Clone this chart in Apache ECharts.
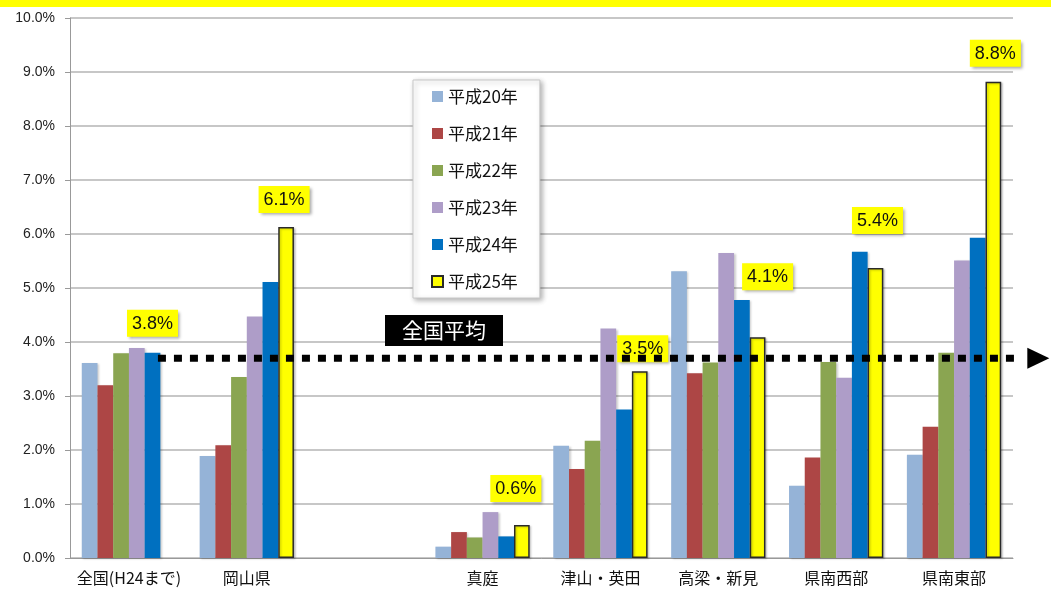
<!DOCTYPE html>
<html>
<head>
<meta charset="utf-8">
<script src="https://cdn.jsdelivr.net/npm/echarts@6/dist/echarts.min.js"></script>
<style>
html,body{margin:0;padding:0;background:#fff;}
#chart{width:1051px;height:593px;}
</style>
</head>
<body>
<div id="chart"></div>
<script>
// ---- data ----
const categories = ['全国(H24まで)', '岡山県', '', '真庭', '津山・英田', '高梁・新見', '県南西部', '県南東部'];
const seriesNames = ['平成20年', '平成21年', '平成22年', '平成23年', '平成24年', '平成25年'];
const h20 = [3.61, 1.89, null, 0.21, 2.08, 5.31, 1.34, 1.91];
const h21 = [3.20, 2.09, null, 0.48, 1.65, 3.42, 1.86, 2.43];
const h22 = [3.79, 3.35, null, 0.38, 2.17, 3.62, 3.63, 3.80];
const h23 = [3.89, 4.47, null, 0.85, 4.25, 5.65, 3.34, 5.51];
const h24 = [3.80, 5.11, null, 0.40, 2.75, 4.78, 5.67, 5.93];
const h25 = [null, 6.13, null, 0.61, 3.46, 4.09, 5.37, 8.82];
const nationalAverage = 3.70;
const avgLabel = '全国平均';
const yTicks = [0, 1, 2, 3, 4, 5, 6, 7, 8, 9, 10];
// extent of the average arrow, in category-slot units (0 = left edge of plot, 8 = right edge)
const avgLineSpan = [0.746, 8.215];

// ---- styling ----
const colors = ['#95B3D7', '#AD4645', '#8AA551', '#AE9DC8', '#0070C0', '#FFFF00'];
// label placement per category: [dx, distance]
const yellowLabelPlace = {1: [-2, 14], 3: [-6, 23], 4: [3, 9], 5: [10, 47], 6: [2, 34], 7: [2, 15]};
const blueLabelPlace = {0: [0, 16]};

const labelBox = {
  show: true,
  position: 'top',
  formatter: p => p.value.toFixed(1) + '%',
  backgroundColor: '#FFFF00',
  color: '#111',
  fontFamily: 'Liberation Sans, Arial, sans-serif',
  fontSize: 18,
  padding: [5, 5, 4, 5],
  shadowBlur: 3,
  shadowOffsetX: 2,
  shadowOffsetY: 2,
  shadowColor: 'rgba(0,0,0,0.35)'
};

function buildData(values, place) {
  return values.map((v, i) => {
    if (v == null) return null;
    if (place && place[i]) {
      return {value: v, label: Object.assign({}, labelBox, {offset: [place[i][0], 0], distance: place[i][1]})};
    }
    return v;
  });
}

const allValues = [h20, h21, h22, h23, h24, h25];
const barSeries = allValues.map((vals, k) => {
  let place = null;
  if (k === 4) place = blueLabelPlace;
  if (k === 5) place = yellowLabelPlace;
  const s = {
    name: seriesNames[k],
    type: 'bar',
    barGap: '0%',
    barCategoryGap: '20%',
    data: buildData(vals, place),
    itemStyle: {
      color: colors[k],
      shadowBlur: 2,
      shadowOffsetX: 1.5,
      shadowOffsetY: 1,
      shadowColor: 'rgba(0,0,0,0.2)'
    },
    emphasis: {disabled: true},
    z: 2
  };
  if (k === 5) {
    s.itemStyle.borderColor = '#2a2a2a';
    s.itemStyle.borderWidth = 1.5;
  }
  return s;
});

const avgSeries = {
  name: avgLabel,
  type: 'line',
  xAxisIndex: 1,
  yAxisIndex: 0,
  clip: false,
  silent: true,
  z: 10,
  showSymbol: true,
  symbol: 'none',
  lineStyle: {color: '#000', width: 7, type: [8, 8], cap: 'butt'},
  itemStyle: {color: '#000'},
  data: [
    {value: [avgLineSpan[0], nationalAverage], symbol: 'none'},
    {value: [avgLineSpan[1], nationalAverage], symbol: 'triangle', symbolRotate: -90, symbolSize: [21, 22]}
  ]
};

const chart = echarts.init(document.getElementById('chart'), null, {renderer: 'canvas'});
chart.setOption({
  animation: false,
  backgroundColor: '#fff',
  grid: {left: 70, right: 38, top: 18, bottom: 35, containLabel: false},
  legend: {
    data: seriesNames,
    orient: 'vertical',
    left: 413,
    top: 80,
    icon: 'rect',
    itemWidth: 11,
    itemHeight: 11,
    itemGap: 20,
    padding: [8, 22, 8, 18],
    backgroundColor: '#fff',
    borderColor: '#c8c8c8',
    borderWidth: 1,
    shadowBlur: 5,
    shadowOffsetX: 2,
    shadowOffsetY: 2,
    shadowColor: 'rgba(0,0,0,0.3)',
    selectedMode: false,
    textStyle: {fontSize: 17, lineHeight: 17, color: '#111', fontFamily: 'Noto Sans CJK JP, sans-serif'}
  },
  xAxis: [
    {
      type: 'category',
      data: categories,
      axisLine: {show: true, lineStyle: {color: '#999', width: 1}},
      axisTick: {show: false},
      axisLabel: {fontSize: 16, color: '#111', margin: 12, fontFamily: 'Noto Sans CJK JP, sans-serif', interval: 0}
    },
    {
      type: 'value',
      min: 0,
      max: categories.length,
      show: false
    }
  ],
  yAxis: {
    type: 'value',
    min: yTicks[0],
    max: yTicks[yTicks.length - 1],
    interval: 1,
    axisLine: {show: true, lineStyle: {color: '#999', width: 1}},
    axisTick: {show: true, length: 5, lineStyle: {color: '#999'}},
    splitLine: {show: true, lineStyle: {color: '#b4b4b4', width: 1.5}},
    axisLabel: {
      formatter: v => v.toFixed(1) + '%',
      fontSize: 14,
      color: '#222',
      margin: 15,
      fontFamily: 'Liberation Sans, Arial, sans-serif'
    }
  },
  graphic: [
    {type: 'rect', left: 0, top: 0, shape: {width: 1051, height: 7}, style: {fill: '#FFFF00'}, z: 100},
    {
      type: 'text',
      left: 385,
      top: 315,
      z: 100,
      style: {
        text: avgLabel,
        fill: '#fff',
        fontSize: 21,
        fontFamily: 'Noto Sans CJK JP, sans-serif',
        backgroundColor: '#000',
        padding: [5, 17, 5, 17]
      }
    }
  ],
  series: barSeries.concat([avgSeries])
});
</script>
</body>
</html>
